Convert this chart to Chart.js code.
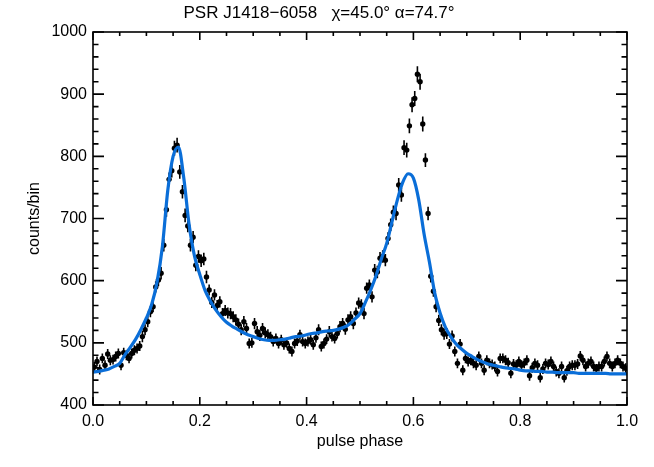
<!DOCTYPE html>
<html>
<head>
<meta charset="utf-8">
<script src="https://cdn.jsdelivr.net/npm/chart.js@4"></script>
<style>
  html, body { margin: 0; padding: 0; background: #fff; }
  canvas { display: block; }
</style>
</head>
<body>
<canvas id="profile" width="654" height="467"></canvas>
<script>
"use strict";

// Titel och axeltexter
const titleText = "PSR J1418\u22126058   \u03c7=45.0\u00b0 \u03b1=74.7\u00b0";
const xLabel = "pulse phase";
const yLabel = "counts/bin";

// Tick-etiketter
const xTicks = [0.0, 0.2, 0.4, 0.6, 0.8, 1.0];
const yTicks = [400, 500, 600, 700, 800, 900, 1000];

// Antal bins över en puls (0..1)
const nBins = 200;

// Uppmätta counts per bin
const counts = [
    461, 470, 457, 475, 464, 482, 472, 473, 478, 483,
    464, 484, 480, 475, 483, 488, 491, 495, 510, 521,
    534, 550, 558, 590, 601, 612, 657, 714, 763, 777,
    813, 818, 775, 743, 705, 688, 657, 670, 625, 639,
    632, 635, 606, 585, 565, 577, 560, 566, 547, 552,
    548, 547, 542, 537, 530, 521, 534, 523, 499, 500,
    531, 518, 512, 523, 516, 513, 510, 502, 507, 499,
    505, 497, 500, 491, 486, 499, 503, 513, 502, 499,
    502, 505, 497, 508, 521, 494, 499, 506, 518, 510,
    507, 515, 526, 531, 522, 537, 542, 531, 548, 564,
    561, 547, 588, 593, 574, 617, 614, 636, 639, 633,
    668, 690, 710, 708, 754, 738, 814, 810, 849, 883,
    893, 932, 920, 852, 794, 708, 607, 583, 558, 536,
    521, 514, 515, 498, 511, 486, 467, 498, 456, 475,
    470, 472, 467, 464, 478, 467, 456, 472, 467, 465,
    462, 454, 475, 475, 472, 468, 451, 466, 464, 470,
    464, 467, 472, 447, 460, 467, 464, 444, 458, 467,
    465, 470, 462, 454, 451, 462, 444, 455, 462, 464,
    464, 466, 479, 472, 462, 467, 470, 462, 458, 462,
    462, 470, 478, 467, 462, 467, 472, 467, 462, 459
];

// Felstaplar (+/-) per bin
const errors = [
    8, 8, 8, 8, 8, 8, 8, 8, 8, 8,
    8, 8, 8, 8, 8, 8, 8, 8, 9, 9,
    9, 9, 9, 9, 10, 10, 10, 11, 11, 11,
    12, 12, 11, 11, 11, 10, 10, 10, 10, 10,
    10, 10, 10, 9, 9, 9, 9, 9, 9, 9,
    9, 9, 9, 9, 9, 9, 9, 9, 8, 8,
    9, 9, 9, 9, 9, 9, 8, 8, 8, 8,
    8, 8, 8, 8, 8, 8, 8, 8, 8, 8,
    8, 8, 8, 8, 9, 8, 8, 8, 9, 8,
    8, 8, 9, 9, 9, 9, 9, 9, 9, 9,
    9, 9, 9, 9, 9, 10, 10, 10, 10, 10,
    10, 10, 11, 11, 11, 11, 12, 12, 12, 12,
    12, 13, 13, 12, 11, 11, 10, 9, 9, 9,
    9, 9, 9, 8, 9, 8, 8, 8, 8, 8,
    8, 8, 8, 8, 8, 8, 8, 8, 8, 8,
    8, 8, 8, 8, 8, 8, 8, 8, 8, 8,
    8, 8, 8, 8, 8, 8, 8, 8, 8, 8,
    8, 8, 8, 8, 8, 8, 8, 8, 8, 8,
    8, 8, 8, 8, 8, 8, 8, 8, 8, 8,
    8, 8, 8, 8, 8, 8, 8, 8, 8, 8
];

// Modellkurva, steg 0.01 i fas
const modelCounts = [
    453, 454, 456, 458, 462, 467, 481, 493, 506, 522,
    540, 562, 598, 655, 745, 800, 815, 765, 690, 640,
    610, 584, 567, 553, 542, 533, 527, 522, 517, 513,
    510, 507, 505, 504, 504, 505, 506, 508, 510, 511,
    513, 515, 516, 518, 519, 520, 522, 525, 530, 538,
    547, 565, 585, 608, 635, 660, 695, 730, 758, 772,
    765, 730, 675, 630, 580, 548, 525, 510, 498, 490,
    483, 478, 473, 469, 466, 464, 462, 460, 459, 458,
    456, 455, 455, 454, 454, 453, 453, 452, 452, 452,
    452, 451, 451, 451, 451, 451, 451, 450, 450, 450,
    450
];

// Bygg punktlistor för Chart.js
const dataPoints = counts.map((c, i) => ({ x: (i + 0.5) / nBins, y: c }));
const modelPoints = modelCounts.map((c, i) => ({ x: i / (modelCounts.length - 1), y: c }));

const fontFamily = "'Liberation Sans', 'DejaVu Sans', sans-serif";

// Felstaplar ritas under punkterna
const errorBarPlugin = {
    id: "errorBars",
    beforeDatasetsDraw(chart) {
        const ctx = chart.ctx;
        const xs = chart.scales.x;
        const ys = chart.scales.y;
        ctx.save();
        ctx.strokeStyle = "#000";
        ctx.lineWidth = 1.6;
        ctx.beginPath();
        counts.forEach((c, i) => {
            const px = xs.getPixelForValue(dataPoints[i].x);
            ctx.moveTo(px, ys.getPixelForValue(c - errors[i]));
            ctx.lineTo(px, ys.getPixelForValue(c + errors[i]));
        });
        ctx.stroke();
        ctx.restore();
    }
};

// IDL-liknande ram med inåtriktade ticks + titel
const framePlugin = {
    id: "frame",
    afterDraw(chart) {
        const ctx = chart.ctx;
        const a = chart.chartArea;
        const xs = chart.scales.x;
        const ys = chart.scales.y;
        ctx.save();
        ctx.strokeStyle = "#000";
        ctx.lineWidth = 1.6;
        ctx.strokeRect(a.left, a.top, a.right - a.left, a.bottom - a.top);

        ctx.beginPath();
        // x-ticks, major 0.2, minor 0.05
        for (let k = 0; k <= 20; k++) {
            const px = xs.getPixelForValue(k * 0.05);
            const len = (k % 4 === 0) ? 8 : 4;
            ctx.moveTo(px, a.bottom); ctx.lineTo(px, a.bottom - len);
            ctx.moveTo(px, a.top); ctx.lineTo(px, a.top + len);
        }
        // y-ticks, major 100, minor 20
        for (let v = 400; v <= 1000; v += 20) {
            const py = ys.getPixelForValue(v);
            const len = (v % 100 === 0) ? 11 : 5.5;
            ctx.moveTo(a.left, py); ctx.lineTo(a.left + len, py);
            ctx.moveTo(a.right, py); ctx.lineTo(a.right - len, py);
        }
        ctx.stroke();

        ctx.fillStyle = "#000";
        ctx.font = "17px " + fontFamily;
        ctx.textAlign = "center";
        ctx.textBaseline = "middle";
        ctx.fillText(titleText, 319, 13);
        ctx.restore();
    }
};

const el = document.getElementById("profile");
new Chart(el, {
    data: {
        datasets: [
            {
                type: "line",
                data: modelPoints,
                borderColor: "#0a6ed8",
                borderWidth: 3.2,
                pointRadius: 0,
                cubicInterpolationMode: "monotone",
                fill: false,
                order: 0
            },
            {
                type: "scatter",
                data: dataPoints,
                backgroundColor: "#000",
                borderWidth: 0,
                pointRadius: 2.7,
                order: 1
            }
        ]
    },
    plugins: [errorBarPlugin, framePlugin],
    options: {
        responsive: false,
        animation: false,
        devicePixelRatio: 1,
        layout: { padding: { top: 32, right: 27, left: 0, bottom: 0 } },
        plugins: {
            legend: { display: false },
            tooltip: { enabled: false },
            title: { display: false }
        },
        scales: {
            x: {
                type: "linear",
                min: 0,
                max: 1,
                afterBuildTicks: (s) => { s.ticks = xTicks.map(v => ({ value: v })); },
                afterFit: (s) => { s.height = 62; },
                ticks: {
                    callback: (v) => Number(v).toFixed(1),
                    color: "#000",
                    font: { family: fontFamily, size: 16 },
                    padding: 7,
                    maxRotation: 0
                },
                grid: { display: false, drawTicks: false },
                border: { display: false },
                title: {
                    display: true,
                    text: xLabel,
                    color: "#000",
                    font: { family: fontFamily, size: 16 },
                    padding: { top: 0, bottom: 16 }
                }
            },
            y: {
                type: "linear",
                min: 400,
                max: 1000,
                afterBuildTicks: (s) => { s.ticks = yTicks.map(v => ({ value: v })); },
                afterFit: (s) => { s.width = 93; },
                ticks: {
                    callback: (v) => String(v),
                    color: "#000",
                    font: { family: fontFamily, size: 16 },
                    padding: 6
                },
                grid: { display: false, drawTicks: false },
                border: { display: false },
                title: {
                    display: true,
                    text: yLabel,
                    color: "#000",
                    font: { family: fontFamily, size: 16 },
                    padding: { top: 25, bottom: 0 }
                }
            }
        }
    }
});
</script>
</body>
</html>
